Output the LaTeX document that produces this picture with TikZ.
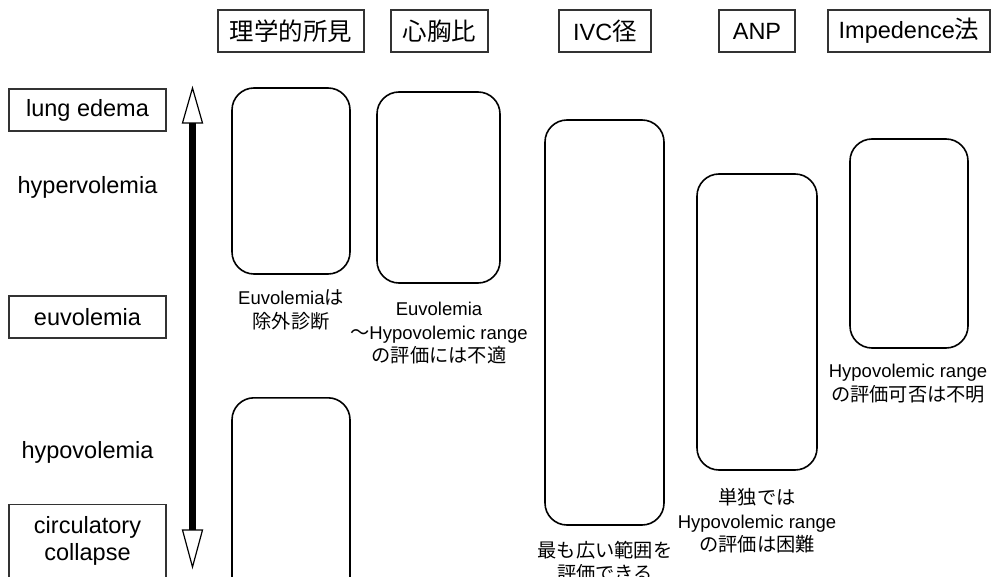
\documentclass[tikz,border=0pt]{standalone}
\usepackage{fontspec}
\usetikzlibrary{calc}
\setmainfont{Liberation Sans}
\newfontfamily\cjk[Scale=1.04]{Noto Sans CJK JP}
\begin{document}
\begin{tikzpicture}[x=1pt,y=-1pt,
  hdr/.style={draw=black!80,line width=1.2pt,rectangle,inner sep=0pt,font=\fontsize{23.5}{26}\selectfont},
  lvl/.style={draw=black!80,line width=1.1pt,rectangle,inner sep=0pt,minimum width=157,font=\fontsize{23.5}{27}\selectfont,align=center},
  lvltxt/.style={inner sep=0pt,font=\fontsize{23.5}{27}\selectfont},
  rbox/.style={draw=black,line width=1.6pt,rounded corners=22pt,inner sep=0pt},
  note/.style={inner sep=0pt,align=center,font=\fontsize{18.5}{23.5}\selectfont},
  head/.style={draw=black,line width=1.2pt,fill=white,line join=miter}
]
\useasboundingbox (0,0) rectangle (992,577);
\clip (0,0) rectangle (992,577);
\fill[white] (0,0) rectangle (992,577);

% header boxes
\node[hdr,minimum width=146,minimum height=42] (h1) at (291,31) {\cjk 理学的所見};
\node[hdr,minimum width=97,minimum height=42] (h2) at (439.5,31) {\cjk 心胸比};
\node[hdr,minimum width=92,minimum height=42] (h3) at (605,31) {IVC{\cjk 径}};
\node[hdr,minimum width=76,minimum height=42] (h4) at (757,31) {ANP};
\node[hdr,minimum width=162,minimum height=42] (h5) at (909,31) {Impedence{\cjk 法}};

% level labels
\node[lvl,minimum height=42] (le) at (87.5,110) {lung edema};
\node[lvltxt] (hyper) at (87.5,187) {hypervolemia};
\node[lvl,minimum height=42] (eu) at (87.5,317) {euvolemia};
\node[lvltxt] (hypo) at (87.5,452) {hypovolemia};
\node[lvl,minimum height=100,anchor=north] (cc) at (87.5,504) {};
\node[lvltxt,align=center] (cctxt) at (87.5,541) {circulatory\\collapse};

% arrow
\coordinate (atop) at (192.5,88);
\coordinate (abot) at (192.5,567);
\draw[line width=7pt] ($(atop)+(0,30)$) -- ($(abot)+(0,-33)$);
\draw[head] (atop) -- ++(-10,35) -- ++(20,0) -- cycle;
\draw[head] (abot) -- ++(-10,-37) -- ++(20,0) -- cycle;

% rounded range boxes
\node[rbox,minimum width=118,minimum height=186] (pe1) at (291,181) {};
\node[rbox,minimum width=118,minimum height=220,anchor=north] (pe2) at (291,397) {};
\node[rbox,minimum width=123,minimum height=191] (ctr) at (438.5,187.5) {};
\node[rbox,minimum width=119,minimum height=405] (ivc) at (604.5,322.5) {};
\node[rbox,minimum width=120,minimum height=296] (anp) at (757,322) {};
\node[rbox,minimum width=118,minimum height=209] (imp) at (909,243.5) {};

% notes
\node[note] (n1) at (291,310) {Euvolemia{\cjk は}\\{\cjk 除外診断}};
\node[note] (n2) at (439,333.5) {Euvolemia\\{\cjk ～}Hypovolemic range\\{\cjk の評価には不適}};
\node[note] (n3) at (605,561.5) {{\cjk 最も広い範囲を}\\{\cjk 評価できる}};
\node[note] (n4) at (757,521) {{\cjk 単独では}\\Hypovolemic range\\{\cjk の評価は困難}};
\node[note] (n5) at (908,383.5) {Hypovolemic range\\{\cjk の評価可否は不明}};
\end{tikzpicture}
\end{document}
